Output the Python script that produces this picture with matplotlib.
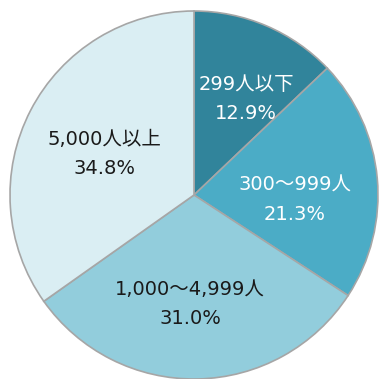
import matplotlib
matplotlib.use("Agg")
import matplotlib.pyplot as plt
import numpy as np

plt.rcParams['font.family'] = ['DejaVu Sans', 'Noto Sans CJK JP']

categories = ["299人以下", "300～999人", "1,000～4,999人", "5,000人以上"]
values = [12.9, 21.3, 31.0, 34.8]
pct_labels = ["12.9%", "21.3%", "31.0%", "34.8%"]
colors = ["#31849B", "#4BACC6", "#92CDDC", "#DAEEF3"]
text_colors = ["white", "white", "#1a1a1a", "#1a1a1a"]

# label anchor positions (axes data units, pie radius = 1)
label_pos = [(0.283, 0.533), (0.549, -0.016), (-0.022, -0.582), (-0.489, 0.236)]

fig = plt.figure(figsize=(3.79, 3.79), dpi=100)
cx, cy, r = 194 / 379, 1 - 195 / 379, 184 / 379
ax = fig.add_axes([cx - r, cy - r, 2 * r, 2 * r])

wedges, _ = ax.pie(values, colors=colors, startangle=90, counterclock=False,
                   radius=1.0,
                   wedgeprops=dict(edgecolor="#A6A6A6", linewidth=1.2))
ax.set_xlim(-1, 1)
ax.set_ylim(-1, 1)
ax.set_aspect('equal')
ax.axis('off')

for (x, y), cat, pct, tc in zip(label_pos, categories, pct_labels, text_colors):
    ax.text(x, y + 0.079, cat, ha='center', va='center_baseline', fontsize=14, color=tc)
    ax.text(x, y - 0.079, pct, ha='center', va='center_baseline', fontsize=14, color=tc)

fig.savefig("out.png", dpi=100)
